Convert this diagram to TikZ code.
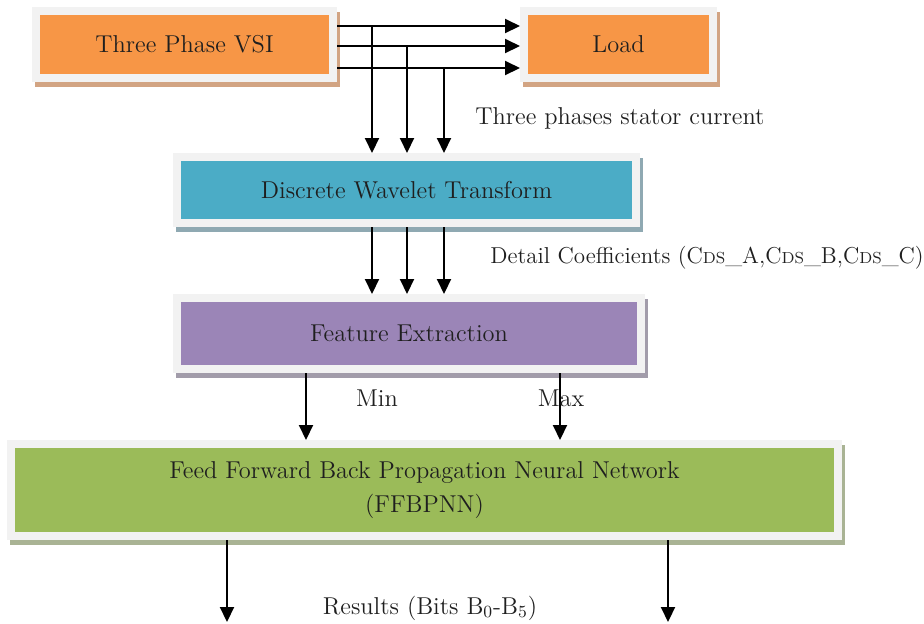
\documentclass[tikz,border=0pt]{standalone}
\usepackage{xcolor}
\usepackage{tikz}
\usetikzlibrary{shadows}
\usetikzlibrary{arrows.meta}
\definecolor{framegray}{HTML}{F2F2F2}
\definecolor{vsiorange}{HTML}{F79646}
\definecolor{dwtblue}{HTML}{4BACC6}
\definecolor{fepurple}{HTML}{9B85B7}
\definecolor{nngreen}{HTML}{9BBB59}
\definecolor{shadeorange}{HTML}{D2A483}
\definecolor{shadeblue}{HTML}{8FA9B2}
\definecolor{shadepurple}{HTML}{A29CAA}
\definecolor{shadegreen}{HTML}{A9B394}
\newcommand{\dssub}{{\fontsize{8}{10}\selectfont DS}}
\tikzset{
    mybox/.style = {rectangle, draw=framegray, line width=4pt, align=center, inner sep=0pt, text=black!88},
    boxo/.style = {mybox, fill=vsiorange, drop shadow={shadow xshift=1.5pt, shadow yshift=-2.5pt, fill=shadeorange, draw=shadeorange, line width=4pt, opacity=1}},
    boxb/.style = {mybox, fill=dwtblue, drop shadow={shadow xshift=1.5pt, shadow yshift=-2.5pt, fill=shadeblue, draw=shadeblue, line width=4pt, opacity=1}},
    boxp/.style = {mybox, fill=fepurple, drop shadow={shadow xshift=1.5pt, shadow yshift=-2.5pt, fill=shadepurple, draw=shadepurple, line width=4pt, opacity=1}},
    boxg/.style = {mybox, fill=nngreen, drop shadow={shadow xshift=1.5pt, shadow yshift=-2.5pt, fill=shadegreen, draw=shadegreen, line width=4pt, opacity=1}},
}

\begin{document}
\begin{tikzpicture}[
	x=0.5pt,
	y=-0.5pt,
	font=\fontsize{12.2}{17}\selectfont
]
\tikzset{
    edgea/.style = {-{Triangle[length=7.5pt,width=7pt]}, line width=1pt, black},
    lbl/.style = {inner sep=0pt, text=black!88}
}
\useasboundingbox (0,0) rectangle (924,623);
\node[boxo, minimum width=148.5pt, minimum height=33.5pt] at (184.5,44.5) (vsi) {Three Phase VSI};
\node[boxo, minimum width=94.5pt, minimum height=33.5pt] at (618.5,44.5) (load) {Load};
\node[boxb, minimum width=229.5pt, minimum height=33pt] at (406.5,190) (dwt) {Discrete Wavelet Transform};
\node[boxp, minimum width=232pt, minimum height=35.5pt] at (409,333.5) (fe) {Feature Extraction};
\node[boxg, minimum width=413.5pt, minimum height=46pt] at (424.5,490) (nn) {Feed Forward Back Propagation Neural Network\\(FFBPNN)};
%
\coordinate (pa) at (372,26);
\coordinate (pb) at (407,46);
\coordinate (pc) at (444,68);
\draw[edgea] (vsi.east |- pa) -- (load.west |- pa);
\draw[edgea] (vsi.east |- pb) -- (load.west |- pb);
\draw[edgea] (vsi.east |- pc) -- (load.west |- pc);
%
\draw[edgea] (pa) -- (pa |- dwt.north);
\draw[edgea] (pb) -- (pb |- dwt.north);
\draw[edgea] (pc) -- (pc |- dwt.north);
%
\draw[edgea] (dwt.south -| pa) -- (fe.north -| pa);
\draw[edgea] (dwt.south -| pb) -- (fe.north -| pb);
\draw[edgea] (dwt.south -| pc) -- (fe.north -| pc);
%
\coordinate (qa) at (306,400);
\coordinate (qb) at (560,400);
\draw[edgea] (fe.south -| qa) -- (nn.north -| qa);
\draw[edgea] (fe.south -| qb) -- (nn.north -| qb);
%
\coordinate (ra) at (227,622);
\coordinate (rb) at (668,622);
\draw[edgea] (nn.south -| ra) -- (ra);
\draw[edgea] (nn.south -| rb) -- (rb);
%
\node[lbl, anchor=west] at (475,118) (lstator) {Three phases stator current};
\node[lbl, anchor=west, font=\fontsize{11.5}{14}\selectfont] at (490,258) (lcoef) {Detail Coefficients (C\dssub\_A,C\dssub\_B,C\dssub\_C)};
\node[lbl] at (377,398) (lmin) {Min};
\node[lbl] at (561,398) (lmax) {Max};
\node[lbl] at (430,608) (lres) {Results (Bits B\textsubscript{0}-B\textsubscript{5})};
\end{tikzpicture}
\end{document}
